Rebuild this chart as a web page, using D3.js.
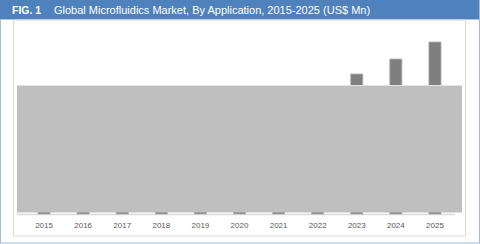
<!DOCTYPE html>
<html>
<head>
<meta charset="utf-8">
<script src="https://cdn.jsdelivr.net/npm/d3@7"></script>
<style>
  body { margin: 0; background: #fff; }
  svg { display: block; }
</style>
</head>
<body>
<script>
// years on the x axis and market values (US$ Mn), earlier years are hidden behind the grey box
var years = ["2015", "2016", "2017", "2018", "2019", "2020", "2021", "2022", "2023", "2024", "2025"];
var values = [5200, 5900, 6700, 7500, 8400, 9300, 10300, 12400, 14000, 15500, 17200];
var figLabel = "FIG. 1";
var title = "Global Microfluidics Market, By Application, 2015-2025 (US$ Mn)";

var widthSvg = 480;
var heightSvg = 244;
var baseline = 214;

var svg = d3.select("body")
  .append("svg")
  .attr("width", widthSvg)
  .attr("height", heightSvg);

// outer frame
svg.append("rect")
  .attr("x", 0.5).attr("y", 0.5)
  .attr("width", widthSvg - 1).attr("height", heightSvg - 1.5)
  .attr("fill", "#fff")
  .attr("stroke", "#9dbde3");

// header bar
svg.append("rect")
  .attr("x", 0).attr("y", 0)
  .attr("width", widthSvg - 1).attr("height", 19)
  .attr("fill", "#4f81bd");
svg.append("line")
  .attr("x1", 0).attr("x2", widthSvg - 1)
  .attr("y1", 19.5).attr("y2", 19.5)
  .attr("stroke", "#a9c3e3");

svg.append("text")
  .attr("x", 12).attr("y", 14)
  .attr("font-family", "Liberation Sans, Arial, sans-serif")
  .attr("font-size", 10.5)
  .attr("font-weight", "bold")
  .attr("fill", "#fff")
  .text(figLabel);
svg.append("text")
  .attr("x", 54).attr("y", 14)
  .attr("font-family", "Liberation Sans, Arial, sans-serif")
  .attr("font-size", 11)
  .attr("fill", "#fff")
  .text(title);

// inner chart panel
svg.append("rect")
  .attr("x", 13.5).attr("y", 20)
  .attr("width", 452).attr("height", 216)
  .attr("fill", "#fff")
  .attr("stroke", "#dcdcdc");

// scales
var x = d3.scaleBand()
  .domain(years)
  .range([24.5, 454.5])
  .paddingInner(0.69)
  .paddingOuter(0.345);
var y = d3.scaleLinear()
  .domain([0, 18400])
  .range([baseline, 30]);

// axis
var xAxis = d3.axisBottom(x).tickSize(0).tickPadding(8);
var axisG = svg.append("g")
  .attr("transform", "translate(0," + (baseline + 0.5) + ")")
  .call(xAxis);
axisG.select(".domain").attr("stroke", "#d9d9d9").attr("stroke-width", 1.5)
  .attr("d", "M17,0H455");
axisG.selectAll("text")
  .attr("font-family", "Liberation Sans, Arial, sans-serif")
  .attr("font-size", 8)
  .attr("fill", "#595959");

// bars
svg.selectAll("rect.bar")
  .data(values)
  .enter()
  .append("rect")
  .attr("class", "bar")
  .attr("x", function(d, i) { return x(years[i]); })
  .attr("y", function(d) { return y(d); })
  .attr("width", x.bandwidth())
  .attr("height", function(d) { return baseline - y(d); })
  .attr("fill", "#7f7f7f")
  .attr("stroke", "#b3b3b3")
  .attr("stroke-width", 0.8);

// grey box that covers most of the plot
svg.append("rect")
  .attr("x", 17).attr("y", 86)
  .attr("width", 445).attr("height", 126.5)
  .attr("fill", "#bfbfbf");
svg.append("line")
  .attr("x1", 17).attr("x2", 462)
  .attr("y1", 85.5).attr("y2", 85.5)
  .attr("stroke", "#e3e3e3");
</script>
</body>
</html>
